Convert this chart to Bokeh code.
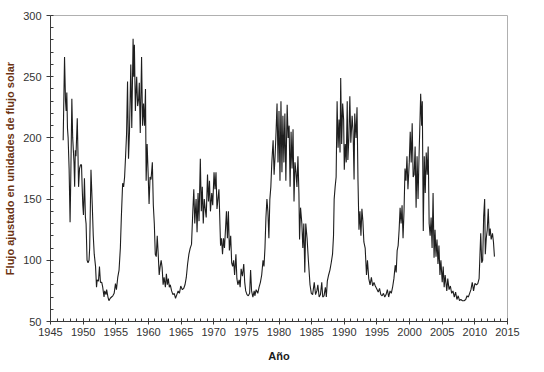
from bokeh.plotting import figure
from bokeh.embed import file_html
from bokeh.resources import INLINE
from bokeh.models import FixedTicker, ColumnDataSource

# Decimal year and adjusted solar flux (sfu), one pair of lists per cycle
years_c18 = [1946.94, 1947.15, 1947.3, 1947.4, 1947.5, 1947.6, 1947.7, 1947.85, 1948.0, 1948.1,
             1948.27, 1948.4, 1948.6, 1948.7, 1948.8, 1948.9, 1949.1, 1949.2, 1949.3, 1949.45,
             1949.6, 1949.75, 1949.85, 1949.95, 1950.05, 1950.2, 1950.35, 1950.45, 1950.6, 1950.75,
             1950.9, 1951.0, 1951.2, 1951.4, 1951.55, 1951.7, 1951.9, 1952.05, 1952.15, 1952.35,
             1952.5, 1952.65, 1952.85, 1953.0, 1953.2, 1953.3, 1953.5, 1953.6, 1953.8, 1953.95,
             1954.15, 1954.35, 1954.55, 1954.75]
flux_c18 = [198, 266, 230, 222, 237, 208, 200, 175, 131, 165,
            232, 200, 180, 160, 190, 185, 216, 190, 160, 175,
            178, 178, 160, 145, 137, 167, 135, 130, 100, 98,
            100, 110, 174, 145, 120, 105, 95, 78, 84, 83,
            95, 82, 82, 78, 70, 75, 72, 76, 70, 67,
            69, 70, 71, 73]

years_c19 = [1954.95, 1955.1, 1955.3, 1955.5, 1955.7, 1955.85, 1956.05, 1956.2, 1956.35, 1956.5,
             1956.65, 1956.8, 1956.95, 1957.1, 1957.3, 1957.45, 1957.65, 1957.75, 1957.85, 1958.0,
             1958.2, 1958.35, 1958.5, 1958.6, 1958.75, 1958.95, 1959.1, 1959.25, 1959.4, 1959.55,
             1959.65, 1959.8, 1959.95, 1960.1, 1960.25, 1960.4, 1960.6, 1960.75, 1960.9, 1961.05,
             1961.2, 1961.35, 1961.5, 1961.65, 1961.8, 1961.95, 1962.1, 1962.25, 1962.4, 1962.6,
             1962.75, 1962.9, 1963.05, 1963.2, 1963.35, 1963.55, 1963.75, 1963.95, 1964.15, 1964.35,
             1964.55, 1964.75]
flux_c19 = [81, 76, 86, 92, 110, 135, 163, 160, 168, 185,
            203, 246, 183, 205, 260, 208, 281, 250, 276, 222,
            250, 226, 232, 245, 204, 266, 210, 228, 210, 240,
            165, 195, 172, 146, 168, 166, 180, 145, 130, 105,
            103, 120, 105, 88, 95, 100, 94, 80, 86, 78,
            89, 80, 85, 78, 80, 75, 72, 73, 69, 72,
            75, 73]

years_c20 = [1964.95, 1965.2, 1965.4, 1965.6, 1965.8, 1966.0, 1966.2, 1966.4, 1966.6, 1966.8,
             1966.95, 1967.1, 1967.3, 1967.45, 1967.6, 1967.75, 1967.95, 1968.1, 1968.25, 1968.4,
             1968.55, 1968.7, 1968.85, 1969.05, 1969.2, 1969.35, 1969.5, 1969.7, 1969.85, 1970.05,
             1970.2, 1970.35, 1970.5, 1970.65, 1970.8, 1971.05, 1971.2, 1971.35, 1971.5, 1971.65,
             1971.8, 1971.95, 1972.1, 1972.25, 1972.4, 1972.6, 1972.75, 1972.9, 1973.05, 1973.2,
             1973.4, 1973.55, 1973.7, 1973.9, 1974.05, 1974.2, 1974.4, 1974.6, 1974.75, 1974.9,
             1975.1, 1975.3, 1975.5, 1975.65, 1975.8, 1976.0, 1976.2, 1976.3, 1976.5, 1976.75]
flux_c20 = [79, 76, 77, 80, 86, 97, 105, 110, 113, 140,
            158, 130, 150, 123, 155, 132, 183, 140, 160, 130,
            150, 142, 135, 170, 148, 165, 140, 155, 145, 172,
            158, 172, 142, 150, 158, 112, 118, 105, 118, 110,
            125, 140, 118, 140, 108, 120, 98, 95, 100, 88,
            105, 85, 80, 84, 78, 93, 87, 97, 82, 75,
            72, 71, 73, 92, 75, 70, 75, 71, 76, 73]

years_c21 = [1976.95, 1977.15, 1977.35, 1977.55, 1977.7, 1977.85, 1978.0, 1978.15, 1978.3, 1978.45,
             1978.6, 1978.75, 1978.9, 1979.1, 1979.25, 1979.4, 1979.55, 1979.7, 1979.85, 1980.0,
             1980.15, 1980.3, 1980.45, 1980.6, 1980.75, 1980.9, 1981.05, 1981.25, 1981.4, 1981.55,
             1981.7, 1981.85, 1982.0, 1982.15, 1982.3, 1982.45, 1982.6, 1982.75, 1982.9, 1983.05,
             1983.15, 1983.3, 1983.5, 1983.65, 1983.8, 1983.95, 1984.1, 1984.3, 1984.5, 1984.75,
             1984.95, 1985.15, 1985.4, 1985.6, 1985.8, 1985.95, 1986.15, 1986.35, 1986.55, 1986.7,
             1986.9]
flux_c21 = [78, 82, 88, 100, 95, 110, 135, 150, 140, 118,
            150, 160, 180, 198, 170, 185, 205, 228, 180, 222,
            165, 230, 172, 218, 180, 220, 165, 227, 200, 210,
            160, 205, 175, 207, 148, 180, 172, 160, 185, 155,
            117, 143, 130, 110, 130, 90, 130, 118, 100, 80,
            73, 72, 82, 72, 75, 80, 70, 72, 82, 70,
            71]

years_c22 = [1987.1, 1987.25, 1987.4, 1987.6, 1987.8, 1988.0, 1988.2, 1988.35, 1988.45, 1988.6,
             1988.75, 1988.9, 1989.05, 1989.2, 1989.35, 1989.45, 1989.6, 1989.75, 1989.9, 1990.0,
             1990.15, 1990.3, 1990.45, 1990.55, 1990.7, 1990.85, 1991.0, 1991.2, 1991.35, 1991.5,
             1991.6, 1991.8, 1991.95, 1992.1, 1992.25, 1992.4, 1992.55, 1992.7, 1992.85, 1993.0,
             1993.2, 1993.4, 1993.55, 1993.75, 1993.95, 1994.15, 1994.35, 1994.55, 1994.75, 1994.95,
             1995.2, 1995.4, 1995.6, 1995.8, 1996.0, 1996.2, 1996.4, 1996.6, 1996.8]
flux_c22 = [78, 70, 83, 88, 92, 98, 105, 120, 150, 160,
            168, 230, 192, 215, 188, 249, 195, 228, 215, 174,
            195, 180, 230, 182, 200, 234, 196, 218, 205, 166,
            220, 200, 225, 165, 125, 140, 120, 142, 132, 115,
            110, 88, 100, 85, 80, 86, 79, 82, 79, 77,
            74, 77, 72, 71, 73, 70, 72, 76, 70]

years_c23 = [1997.0, 1997.2, 1997.4, 1997.6, 1997.8, 1997.95, 1998.1, 1998.25, 1998.4, 1998.55,
             1998.7, 1998.85, 1999.0, 1999.15, 1999.3, 1999.45, 1999.6, 1999.75, 1999.95, 2000.1,
             2000.25, 2000.4, 2000.55, 2000.7, 2000.85, 2001.0, 2001.15, 2001.3, 2001.45, 2001.6,
             2001.7, 2001.85, 2001.95, 2002.1, 2002.25, 2002.4, 2002.55, 2002.7, 2002.85, 2003.0,
             2003.15, 2003.3, 2003.45, 2003.6, 2003.75, 2003.9, 2004.05, 2004.2, 2004.35, 2004.5,
             2004.65, 2004.8, 2005.0, 2005.15, 2005.3, 2005.45, 2005.7, 2005.85, 2006.05, 2006.25,
             2006.45, 2006.65, 2006.85, 2007.05, 2007.25, 2007.45, 2007.65, 2007.85, 2008.1, 2008.35,
             2008.6, 2008.8]
flux_c23 = [75, 73, 78, 85, 96, 90, 108, 112, 125, 143,
            130, 145, 118, 140, 175, 165, 185, 158, 180, 205,
            180, 212, 168, 170, 193, 143, 185, 150, 185, 215,
            236, 210, 230, 124, 185, 155, 188, 170, 193, 130,
            120, 135, 110, 155, 102, 125, 103, 117, 97, 112,
            88, 100, 82, 95, 78, 88, 75, 85, 76, 79,
            73, 75, 70, 74, 68, 71, 67, 68, 67, 67,
            68, 71]

years_c24 = [2009.0, 2009.2, 2009.4, 2009.6, 2009.8, 2010.0, 2010.25, 2010.45, 2010.65, 2010.9,
             2011.05, 2011.2, 2011.35, 2011.5, 2011.6, 2011.75, 2011.9, 2012.05, 2012.2, 2012.35,
             2012.5, 2012.7, 2012.85, 2013.0]
flux_c24 = [70, 73, 76, 82, 75, 81, 80, 81, 85, 122,
            98, 100, 136, 150, 105, 118, 125, 142, 120, 126,
            117, 122, 115, 103]

x_ticks = [1945, 1950, 1955, 1960, 1965, 1970, 1975, 1980, 1985, 1990, 1995, 2000, 2005, 2010, 2015]
y_ticks = [50, 100, 150, 200, 250, 300]

years = years_c18 + years_c19 + years_c20 + years_c21 + years_c22 + years_c23 + years_c24
flux = flux_c18 + flux_c19 + flux_c20 + flux_c21 + flux_c22 + flux_c23 + flux_c24
src = ColumnDataSource(data=dict(year=years, flux=flux))

p = figure(width=536, height=364, output_backend="svg", toolbar_location=None,
           x_range=(1945, 2015), y_range=(50, 300),
           min_border_left=50, min_border_right=29, min_border_top=15, min_border_bottom=41)
p.line("year", "flux", source=src, line_color="#1e1e1e", line_width=1.1)

p.xgrid.grid_line_color = None
p.ygrid.grid_line_color = None
p.outline_line_color = "#b0b0b0"
p.outline_line_width = 1
p.background_fill_color = "white"
p.border_fill_color = "white"

font = "Liberation Sans"
xa = p.xaxis[0]
ya = p.yaxis[0]
xa.ticker = FixedTicker(ticks=x_ticks, minor_ticks=list(range(1945, 2016)))
ya.ticker = FixedTicker(ticks=y_ticks, minor_ticks=list(range(50, 301, 10)))
for ax in (xa, ya):
    ax.axis_line_color = "#3a3a3a"
    ax.major_tick_line_color = "#3a3a3a"
    ax.minor_tick_line_color = "#3a3a3a"
    ax.major_label_text_font = font
    ax.major_label_text_font_size = "11px"
    ax.major_label_text_color = "#333333"
    ax.axis_label_text_font = font
    ax.axis_label_text_font_size = "11px"
    ax.axis_label_text_font_style = "bold"

xa.major_tick_in = 3
xa.major_tick_out = 3
xa.minor_tick_in = 3
xa.minor_tick_out = 0
xa.major_label_standoff = 3
xa.axis_label = "Año"
xa.axis_label_text_color = "#1a1a1a"
xa.axis_label_standoff = 11

ya.major_tick_in = 0
ya.major_tick_out = 4
ya.minor_tick_in = 3
ya.minor_tick_out = 0
ya.major_label_standoff = 5
ya.axis_label = "Flujo ajustado en unidades de flujo solar"
ya.axis_label_text_color = "#6b3312"
ya.axis_label_standoff = 4

open("out.html", "w").write(file_html(p, INLINE))
